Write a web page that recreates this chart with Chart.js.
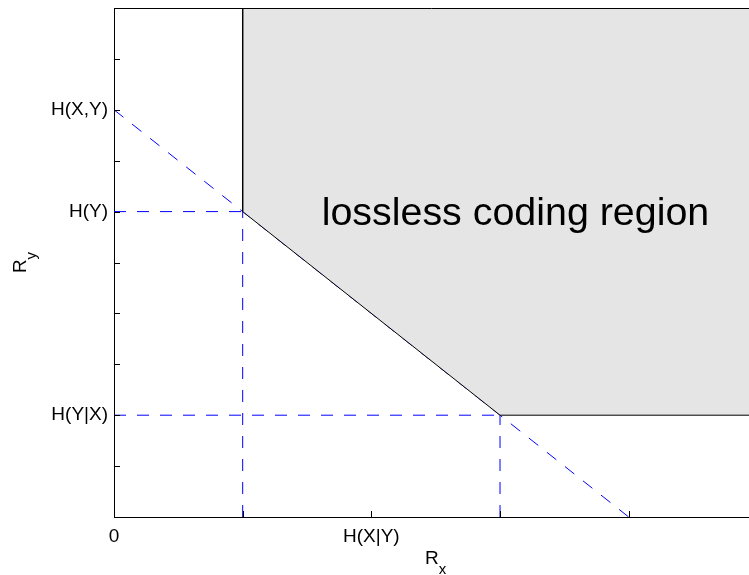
<!DOCTYPE html>
<html>
<head>
<meta charset="utf-8">
<script src="https://cdn.jsdelivr.net/npm/chart.js@4/dist/chart.umd.min.js"></script>
<style>
  html, body { margin: 0; padding: 0; background: #fff; overflow: hidden; }
  canvas { display: block; }
</style>
</head>
<body>
<canvas id="c" width="749" height="575"></canvas>
<script>
// Axis ranges and tick labels (rate units); the view is cut just short of Rx = 5
const xRange = [0, 4.935];
const yRange = [0, 10];
const xTickLabels = { 0: '0', 2: 'H(X|Y)' };
const yTickLabels = { 2: 'H(Y|X)', 6: 'H(Y)', 8: 'H(X,Y)' };

// Boundary of the achievable (lossless) rate region
const regionX = [1, 1, 3, 5];
const regionY = [10, 6, 2, 2];

// Dashed guide lines
const sumRateX = [0, 4];
const sumRateY = [8, 0];
const hYGuideX = [0, 1];
const hYGuideY = [6, 6];
const cornerAGuideX = [1, 1];
const cornerAGuideY = [0, 6];
const hYXGuideX = [0, 3];
const hYXGuideY = [2, 2];
const cornerBGuideX = [3, 3];
const cornerBGuideY = [0, 2];

// Region caption and its anchor in data units
const regionCaption = 'lossless coding region';
const captionX = 3.12;
const captionY = 5.74;

const FONT = "'Liberation Sans', Arial, Helvetica, sans-serif";

function pts(xs, ys) { return xs.map((x, i) => ({ x: x, y: ys[i] })); }

function dashed(xs, ys) {
  return {
    data: pts(xs, ys),
    showLine: true,
    borderColor: '#0000ff',
    borderWidth: 1,
    borderDash: [12, 11],
    pointRadius: 0,
    fill: false
  };
}

// keep the plot frame fixed: no extra room for edge tick labels
function noEdgePadding(s) {
  s.paddingTop = 0;
  s.paddingBottom = 0;
  s.paddingLeft = 0;
  s.paddingRight = 0;
}

const decorations = {
  id: 'decorations',
  afterDatasetsDraw(chart) {
    const ctx = chart.ctx;
    const a = chart.chartArea;
    const xs = chart.scales.x, ys = chart.scales.y;
    ctx.save();
    // inward tick marks at whole units only
    ctx.strokeStyle = '#000';
    ctx.lineWidth = 1;
    ctx.beginPath();
    xs.ticks.filter(t => Number.isInteger(t.value) && t.value > xRange[0]).forEach(t => {
      const px = Math.round(xs.getPixelForValue(t.value)) + 0.5;
      ctx.moveTo(px, a.bottom);
      ctx.lineTo(px, a.bottom - 6);
    });
    ys.ticks.filter(t => Number.isInteger(t.value) && t.value > yRange[0] && t.value < yRange[1]).forEach(t => {
      const py = Math.round(ys.getPixelForValue(t.value)) + 0.5;
      ctx.moveTo(a.left, py);
      ctx.lineTo(a.left + 6, py);
    });
    ctx.stroke();
    // top frame line
    ctx.beginPath();
    ctx.moveTo(a.left, Math.round(a.top) + 0.5);
    ctx.lineTo(a.right, Math.round(a.top) + 0.5);
    ctx.stroke();

    // region caption
    ctx.fillStyle = '#000';
    ctx.font = '39.4px ' + FONT;
    ctx.textAlign = 'center';
    ctx.textBaseline = 'alphabetic';
    ctx.fillText(regionCaption, xs.getPixelForValue(captionX), ys.getPixelForValue(captionY));

    // axis titles with subscripts, centred on the full (uncut) axis span
    const main = '19px ' + FONT, sub = '15px ' + FONT;
    ctx.textAlign = 'left';
    ctx.font = main;
    const wR = ctx.measureText('R').width;
    ctx.font = sub;
    const wx = ctx.measureText('x').width;
    const wy = ctx.measureText('y').width;

    // R_x
    const cx = xs.getPixelForValue(2.5);
    const bx = a.bottom + 47;
    ctx.font = main;
    ctx.fillText('R', cx - (wR + wx) / 2, bx);
    ctx.font = sub;
    ctx.fillText('x', cx - (wR + wx) / 2 + wR, bx + 10);

    // R_y (rotated)
    const cy = (a.top + a.bottom) / 2;
    ctx.translate(a.left - 88, cy);
    ctx.rotate(-Math.PI / 2);
    ctx.font = main;
    ctx.fillText('R', -(wR + wy) / 2, 0);
    ctx.font = sub;
    ctx.fillText('y', -(wR + wy) / 2 + wR, 10);
    ctx.restore();
  }
};

new Chart(document.getElementById('c'), {
  type: 'scatter',
  data: {
    datasets: [
      {
        data: pts(regionX, regionY),
        showLine: true,
        borderColor: '#000',
        borderWidth: 1,
        backgroundColor: '#e5e5e5',
        fill: 'end',
        pointRadius: 0
      },
      dashed(sumRateX, sumRateY),
      dashed(hYGuideX, hYGuideY),
      dashed(cornerAGuideX, cornerAGuideY),
      dashed(hYXGuideX, hYXGuideY),
      dashed(cornerBGuideX, cornerBGuideY)
    ]
  },
  options: {
    responsive: false,
    animation: false,
    events: [],
    layout: { padding: { top: 8, right: 0, bottom: 0, left: 0 } },
    plugins: { legend: { display: false }, tooltip: { enabled: false } },
    scales: {
      x: {
        type: 'linear',
        min: xRange[0],
        max: xRange[1],
        afterFit(s) { s.height = 58; noEdgePadding(s); },
        ticks: {
          stepSize: 1,
          includeBounds: false,
          autoSkip: false,
          maxRotation: 0,
          padding: 8,
          color: '#000',
          font: { family: FONT, size: 19 },
          callback: v => (xTickLabels[v] !== undefined ? xTickLabels[v] : '')
        },
        grid: { drawOnChartArea: false, drawTicks: false },
        border: { display: true, color: '#000', width: 1 }
      },
      y: {
        type: 'linear',
        min: yRange[0],
        max: yRange[1],
        afterFit(s) { s.width = 114; noEdgePadding(s); },
        ticks: {
          stepSize: 1,
          autoSkip: false,
          padding: 6,
          color: '#000',
          font: { family: FONT, size: 19 },
          callback: v => (yTickLabels[v] !== undefined ? yTickLabels[v] : '')
        },
        grid: { drawOnChartArea: false, drawTicks: false },
        border: { display: true, color: '#000', width: 1 }
      }
    }
  },
  plugins: [decorations]
});
</script>
</body>
</html>
